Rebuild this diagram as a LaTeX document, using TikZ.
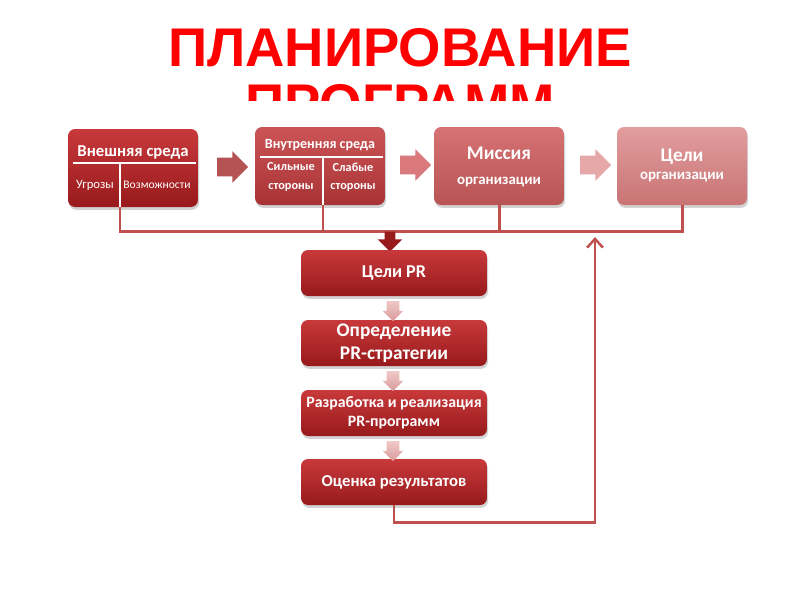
\documentclass[tikz,border=0pt]{standalone}
\usepackage{fontspec}
\setmainfont{Carlito}
\newfontfamily\titlefont{Liberation Sans}
\usetikzlibrary{arrows.meta, positioning, shapes.arrows, shadows}
\definecolor{darkTop}{HTML}{C8393B}
\definecolor{darkBot}{HTML}{981A1C}
\definecolor{midTop}{HTML}{CC5456}
\definecolor{midBot}{HTML}{A83335}
\definecolor{lightTop}{HTML}{D77274}
\definecolor{lightBot}{HTML}{B95455}
\definecolor{paleTop}{HTML}{E29D9D}
\definecolor{paleBot}{HTML}{C97475}
\definecolor{busRed}{HTML}{C0504D}
\definecolor{pinkTop}{HTML}{F0C8C8}
\definecolor{pinkBot}{HTML}{D99A9A}

\begin{document}
\begin{tikzpicture}[x=0.02cm, y=-0.02cm, every node/.style={font=\small, text=white},
  card/.style={rounded corners=4pt, inner sep=0pt, drop shadow={opacity=0.35, shadow xshift=0.6pt, shadow yshift=-1.6pt}},
  topcard/.style={card, minimum width=2.6cm, minimum height=1.56cm},
  colcard/.style={card, minimum width=3.72cm, minimum height=0.92cm, align=center, font=\fontsize{10.3}{12}\selectfont\bfseries},
  dark/.style={top color=darkTop, bottom color=darkBot},
  mid/.style={top color=midTop, bottom color=midBot},
  light/.style={top color=lightTop, bottom color=lightBot},
  pale/.style={top color=paleTop, bottom color=paleBot},
  rarrow/.style={single arrow, inner sep=0.18cm, minimum height=0.62cm, single arrow head extend=0.13cm, draw=none},
  darrow/.style={single arrow, shape border rotate=270, inner sep=0.12cm, minimum height=0.4cm, single arrow head extend=0.08cm, draw=none},
  divline/.style={white, line width=1.3pt},
  bus/.style={busRed, line width=1.7pt},
  titletext/.style={font=\titlefont\fontsize{31}{31}\selectfont\bfseries, text=red, inner sep=0pt}]
  \useasboundingbox (0,0) rectangle (800,600);

  % Title, lower line hidden by the panel
  \node[titletext] (title1) at (400,48) {ПЛАНИРОВАНИЕ};
  \node[titletext] (title2) at (400,104) {ПРОГРАММ};
  \fill[white] (55,101) rectangle (748,533);

  % Top row
  \node[topcard, dark]  (outer)   at (133,168) {};
  \node[topcard, mid]   (inner)   at (320,166) {};
  \node[topcard, light] (mission) at (499,166) {};
  \node[topcard, pale]  (orggoal) at (682,166) {};

  \node[rarrow, fill=midBot!85]     (ra1) at (228,167) {};
  \node[rarrow, fill=lightTop!95]   (ra2) at (411,165) {};
  \node[rarrow, fill=paleTop!90]    (ra3) at (591,165) {};

  % External environment
  \node[font=\fontsize{9.5}{11}\selectfont\bfseries] (outerT) at (133,152) {Внешняя среда};
  \draw[divline] (73,163) -- (196,163);
  \draw[divline] (120,163) -- (120,208);
  \node[font=\fontsize{7.2}{8}\selectfont] (threat) at (95,185) {Угрозы};
  \node[font=\fontsize{6.6}{8}\selectfont] (chance) at (157,185) {Возможности};

  % Internal environment
  \node[font=\fontsize{8}{9}\selectfont\bfseries] (innerT) at (320,145) {Внутренняя среда};
  \draw[divline] (260,157) -- (383,157);
  \draw[divline] (323,157) -- (323,205);
  \node[font=\fontsize{7}{10.5}\selectfont\bfseries, align=center] (strong) at (291,177) {Сильные\\стороны};
  \node[font=\fontsize{7}{10.5}\selectfont\bfseries, align=center] (weak) at (353,177) {Слабые\\стороны};

  % Mission and goals
  \node[font=\fontsize{11}{13}\selectfont\bfseries] (missionT) at (499,153) {Миссия};
  \node[font=\fontsize{8.5}{10}\selectfont\bfseries] (missionS) at (499,182) {организации};
  \node[font=\fontsize{11}{13}\selectfont\bfseries] (goalT) at (682,157) {Цели};
  \node[font=\fontsize{8.5}{10}\selectfont\bfseries] (goalS) at (682,177) {организации};

  % Bus line
  \coordinate (busL) at (120,231);
  \coordinate (busR) at (682,231);
  \coordinate (innerdiv) at (323,205);
  \draw[bus] (outer.south -| busL) -- (busL) -- (busR) -- (orggoal.south);
  \draw[bus] (innerdiv) -- (innerdiv |- busL);
  \draw[bus] (mission.south) -- (mission.south |- busL);

  % Column
  \node[darrow, fill=darkBot, inner sep=0.1cm, single arrow head extend=0.14cm] (bigdown) at (390,239) {};
  \node[colcard, dark] (prgoal)  at (394,273) {Цели PR};
  \node[colcard, dark, font=\fontsize{11}{13}\selectfont\bfseries] (strat) at (394,343) {Определение\\PR-стратегии};
  \node[colcard, dark, font=\fontsize{9}{11}\selectfont\bfseries] (prog) at (394,413) {Разработка и реализация\\PR-программ};
  \node[colcard, dark, font=\fontsize{9.5}{11.5}\selectfont\bfseries] (eval) at (394,482) {Оценка результатов};

  \node[darrow, top color=pinkTop, bottom color=pinkBot] (da1) at (393,308) {};
  \node[darrow, top color=pinkTop, bottom color=pinkBot] (da2) at (393,378) {};
  \node[darrow, top color=pinkTop, bottom color=pinkBot] (da3) at (393,448) {};

  % Feedback
  \coordinate (fbtop) at (595,237);
  \draw[bus, line width=1.4pt, -{Straight Barb[length=5pt, width=9pt]}] (eval.south) -- ++(0,17) -| (fbtop);
\end{tikzpicture}
\end{document}
